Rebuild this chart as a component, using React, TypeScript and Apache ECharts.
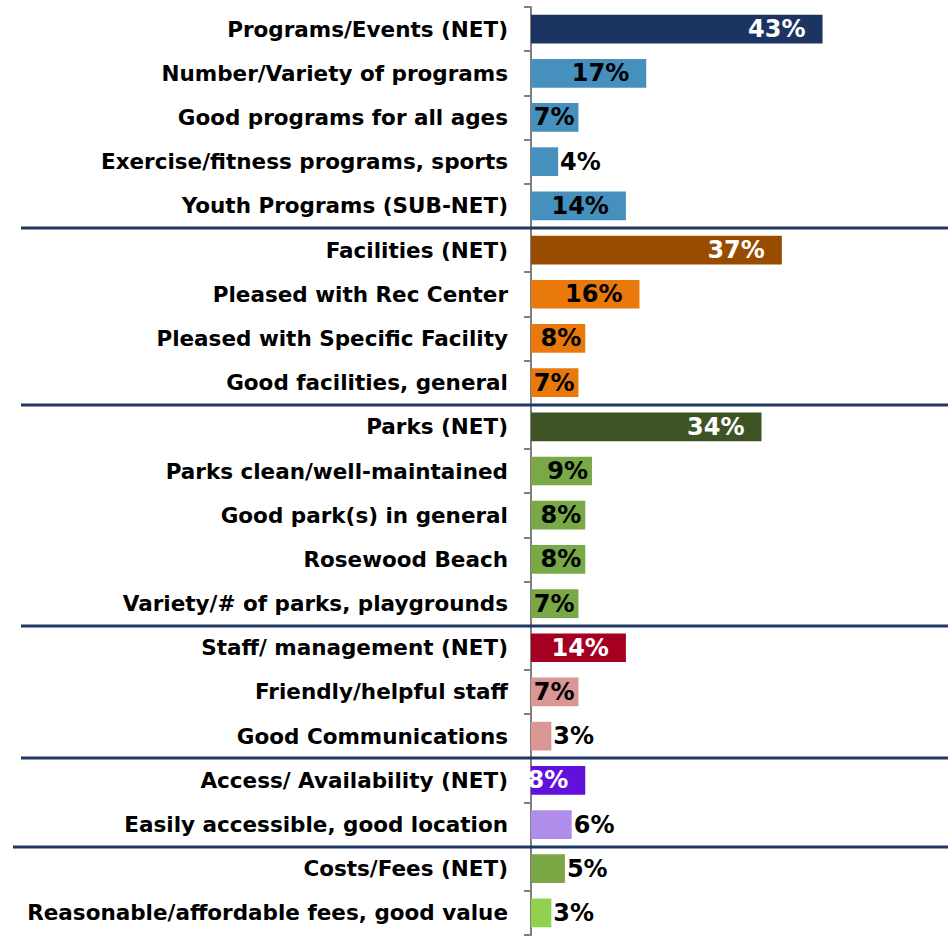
import React, { useEffect, useRef } from "react";
import * as echarts from "echarts";

const categories = [
  "Programs/Events (NET)",
  "Number/Variety of programs",
  "Good programs for all ages",
  "Exercise/fitness programs, sports",
  "Youth Programs (SUB-NET)",
  "Facilities (NET)",
  "Pleased with Rec Center",
  "Pleased with Specific Facility",
  "Good facilities, general",
  "Parks (NET)",
  "Parks clean/well-maintained",
  "Good park(s) in general",
  "Rosewood Beach",
  "Variety/# of parks, playgrounds",
  "Staff/ management (NET)",
  "Friendly/helpful staff",
  "Good Communications",
  "Access/ Availability (NET)",
  "Easily accessible, good location",
  "Costs/Fees (NET)",
  "Reasonable/affordable fees, good value",
];

const values = [43, 17, 7, 4, 14, 37, 16, 8, 7, 34, 9, 8, 8, 7, 14, 7, 3, 8, 6, 5, 3];

const isNet = [
  true, false, false, false, false,
  true, false, false, false,
  true, false, false, false, false,
  true, false, false,
  true, false,
  true, false,
];

const barColors = [
  "#1C3461", "#4590BC", "#4590BC", "#4590BC", "#4590BC",
  "#994B00", "#E9790B", "#E9790B", "#E9790B",
  "#3E5424", "#79A846", "#79A846", "#79A846", "#79A846",
  "#A50021", "#DA9695", "#DA9695",
  "#6011DC", "#B08CEB",
  "#78A744", "#92D050",
];

// group separators drawn after these category indices
const groupEnds = [4, 8, 13, 16, 18];

export default function App() {
  const ref = useRef<HTMLDivElement>(null);

  useEffect(() => {
    document.body.style.margin = "0";
    if (!ref.current) return;
    const chart = echarts.init(ref.current, null, { renderer: "svg" });
    const font = "DejaVu Sans";

    const data = values.map((v, i) => {
      let label: any;
      const white = isNet[i] && v >= 8 && i !== 19;
      if (v >= 10 || white) {
        label = { position: "insideRight", distance: 17, color: white ? "#FFFFFF" : "#000000" };
      } else if (v >= 7) {
        label = { position: "insideRight", distance: 4, color: "#000000" };
      } else {
        label = { position: "right", distance: 2, color: "#000000" };
      }
      return { value: v, itemStyle: { color: barColors[i] }, label };
    });

    chart.setOption({
      animation: false,
      grid: { left: 531, right: 78, top: 7, bottom: 9, containLabel: false },
      xAxis: {
        type: "value",
        min: 0,
        max: 50,
        show: false,
        splitLine: { show: false },
      },
      yAxis: {
        type: "category",
        inverse: true,
        data: categories,
        axisLine: { show: true, lineStyle: { color: "#808080", width: 2 } },
        axisTick: { show: true, length: 7, lineStyle: { color: "#808080", width: 2 } },
        axisLabel: {
          fontFamily: font,
          fontWeight: "bold",
          fontSize: 21.5,
          color: "#000000",
          margin: 23,
        },
      },
      series: [
        {
          type: "bar",
          data,
          barWidth: "65%",
          label: {
            show: true,
            formatter: "{c}%",
            fontFamily: font,
            fontWeight: "bold",
            fontSize: 24,
          },
        },
      ],
    });

    const lines = groupEnds.map((idx, k) => {
      const y1 = chart.convertToPixel({ yAxisIndex: 0 }, idx) as number;
      const y2 = chart.convertToPixel({ yAxisIndex: 0 }, idx + 1) as number;
      const y = Math.round((y1 + y2) / 2);
      return {
        type: "line",
        z: 10,
        shape: { x1: k === groupEnds.length - 1 ? 13 : 21, y1: y, x2: 948, y2: y },
        style: { stroke: "#1F3864", lineWidth: 3 },
      };
    });
    chart.setOption({ graphic: lines });

    return () => chart.dispose();
  }, []);

  return <div ref={ref} style={{ width: 948, height: 944 }} />;
}
